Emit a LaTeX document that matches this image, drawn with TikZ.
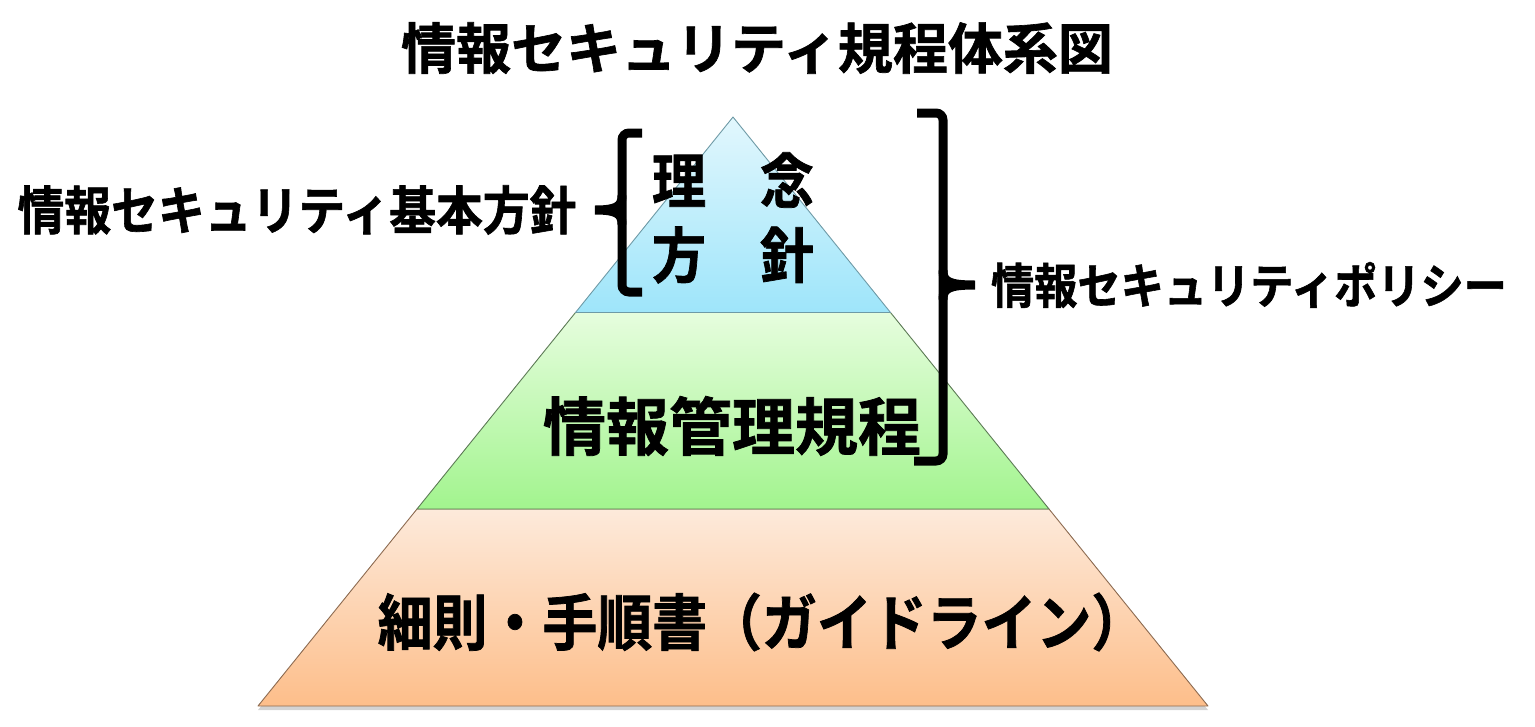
\documentclass[tikz,border=0pt]{standalone}
\usepackage{fontspec}
\usepackage{tikz}
\usetikzlibrary{shadows}
\newfontfamily\jpfont{Noto Sans CJK JP Bold}[FakeBold=1.2]
\newfontfamily\jpnarrow{Noto Sans CJK JP Bold}[FakeStretch=0.9, FakeBold=1.2]
\definecolor{bluetop}{HTML}{E2F7FD}
\definecolor{bluebot}{HTML}{9EE5FA}
\definecolor{blueline}{HTML}{6E9AA6}
\definecolor{greentop}{HTML}{E6FDDE}
\definecolor{greenbot}{HTML}{A2F48E}
\definecolor{greenline}{HTML}{5C7A55}
\definecolor{orangetop}{HTML}{FDEADB}
\definecolor{orangebot}{HTML}{FDBE8A}
\definecolor{orangeline}{HTML}{8C6A50}

\begin{document}
\begin{tikzpicture}[
        x=1pt, y=-1pt,
        tier/.style={line width=0.9pt, line join=round},
        label/.style={inner sep=0pt, anchor=center, text=black},
        bracket/.style={draw=black, line width=9pt, rounded corners=7pt},
        stub/.style={draw=black, line width=9pt, line cap=round}
    ]
    \useasboundingbox (0,0) rectangle (1535,726);

    % --- Pyramid corners ---
    \coordinate (apex) at (733,117);
    \coordinate (l1) at (575.5,312.5);
    \coordinate (r1) at (890.5,312.5);
    \coordinate (l2) at (417,509);
    \coordinate (r2) at (1049,509);
    \coordinate (l3) at (258,706);
    \coordinate (r3) at (1208,706);

    % --- Tiers ---
    \path[tier, draw=orangeline, top color=orangetop, bottom color=orangebot,
        drop shadow={shadow xshift=0pt, shadow yshift=-4pt, opacity=0.35}]
        (l2) -- (r2) -- (r3) -- (l3) -- cycle;
    \path[tier, draw=greenline, top color=greentop, bottom color=greenbot]
        (l1) -- (r1) -- (r2) -- (l2) -- cycle;
    \path[tier, draw=blueline, top color=bluetop, bottom color=bluebot]
        (apex) -- (r1) -- (l1) -- cycle;

    % --- Texts ---
    \node (title) [label, font=\jpfont\fontsize{55}{60}\selectfont] at (757,48) {情報セキュリティ規程体系図};
    \node (rinen) [label, font=\jpnarrow\fontsize{60}{64}\selectfont] at (733,180) {理　念};
    \node (hoshin) [label, font=\jpnarrow\fontsize{60}{64}\selectfont] at (733,255) {方　針};
    \node (kitei) [label, font=\jpfont\fontsize{63}{68}\selectfont] at (732,426) {情報管理規程};
    \node (saisoku) [label, font=\jpnarrow\fontsize{61}{66}\selectfont] at (762,622) {細則・手順書（ガイドライン）};
    \node (basic) [label, font=\jpnarrow\fontsize{52}{58}\selectfont] at (297,210) {情報セキュリティ基本方針};
    \node (policy) [label, font=\jpnarrow\fontsize{48}{54}\selectfont] at (1249,285) {情報セキュリティポリシー};

    % --- Brackets ---
    \draw[bracket] (642,133) -- (622,133) -- (622,292) -- (642,292);
    \draw[stub] (622,196) .. controls (622,207) and (615,210) .. (595,210)
        .. controls (615,210) and (622,213) .. (622,224);
    \draw[bracket] (917,113) -- (943,113) -- (943,461) -- (914,461);
    \draw[stub] (943,271) .. controls (943,282) and (950,285) .. (975,285)
        .. controls (950,285) and (943,288) .. (943,299);

\end{tikzpicture}
\end{document}
